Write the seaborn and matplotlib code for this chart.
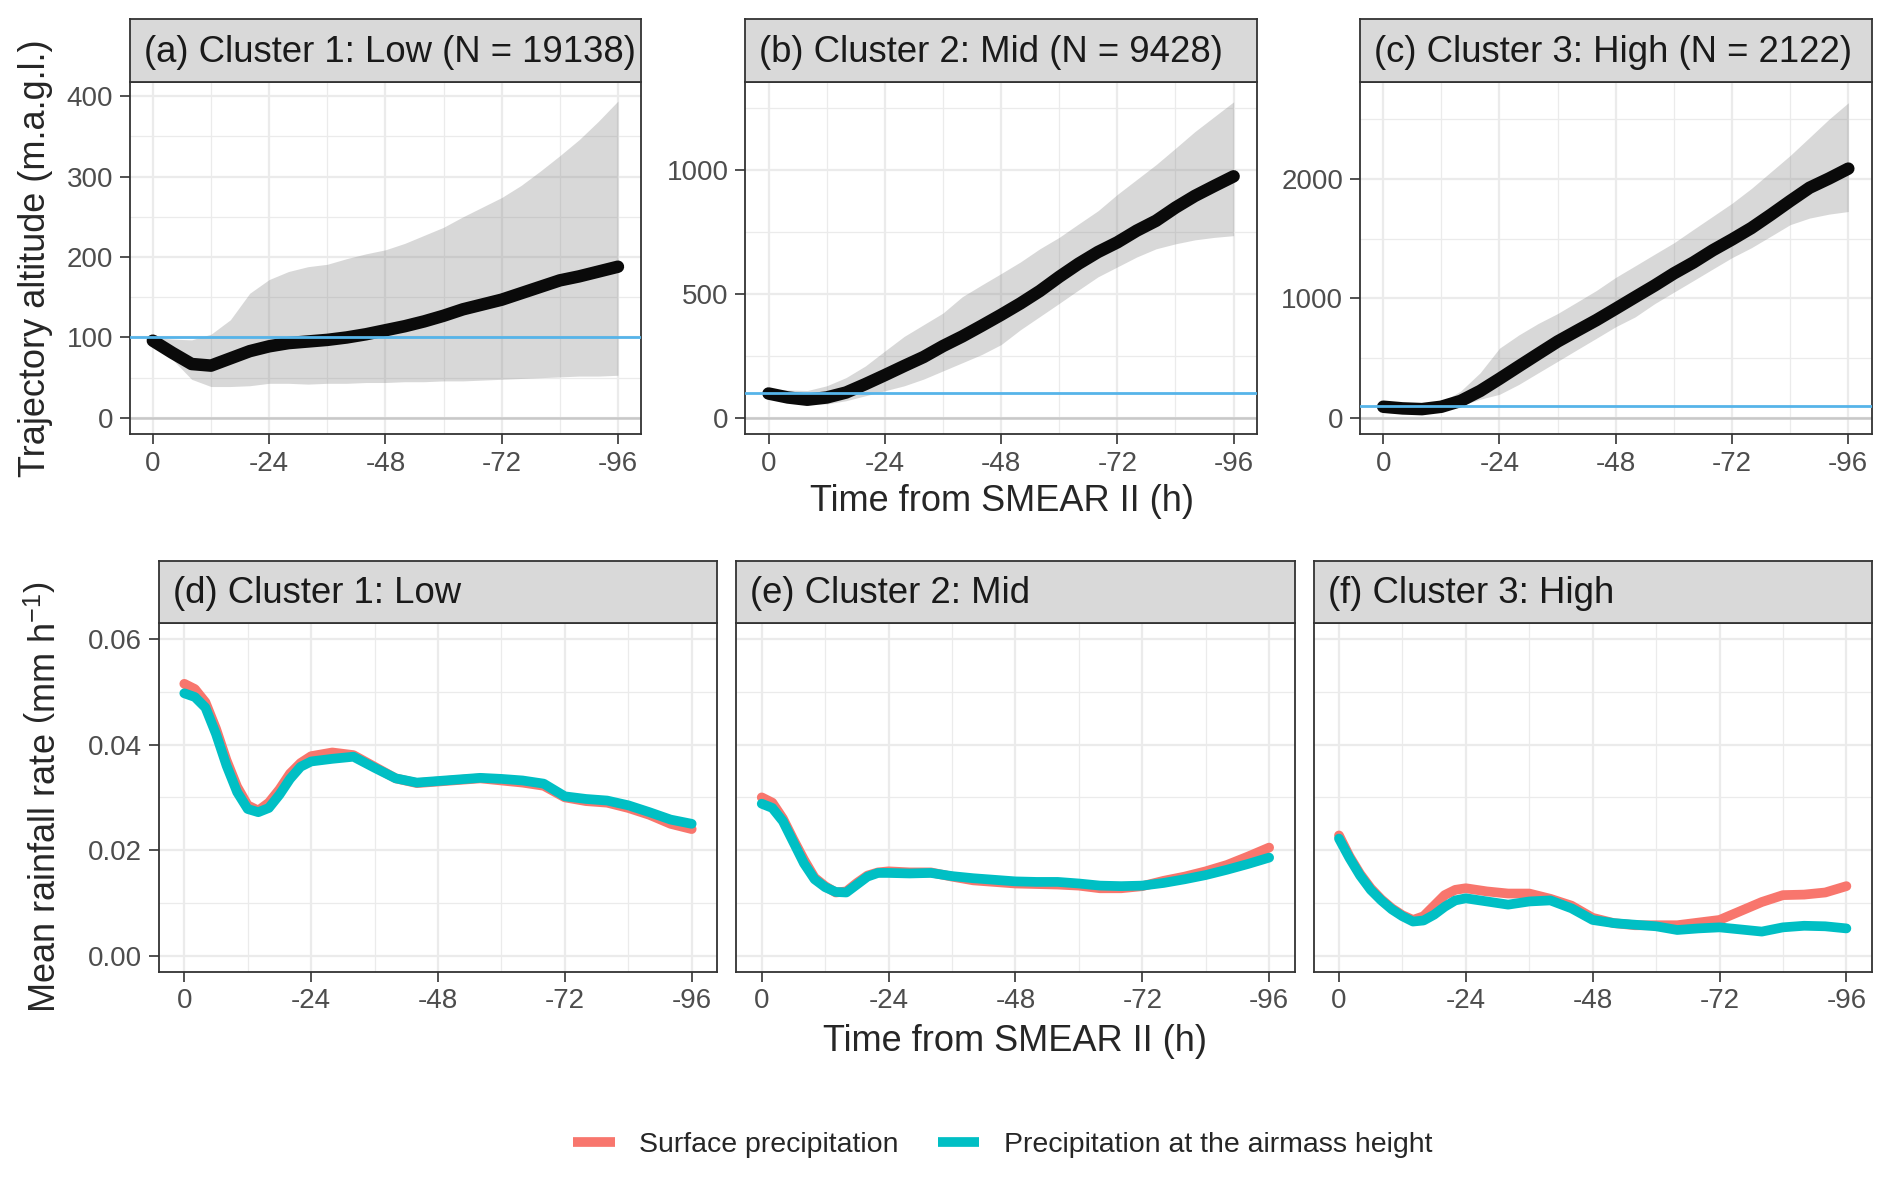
import numpy as np
import pandas as pd
import seaborn as sns
import matplotlib.pyplot as plt
from matplotlib.ticker import FixedLocator, FormatStrFormatter
from matplotlib.lines import Line2D

# ---- trajectory altitude (top row), every 4 h from 0 to -96
hours_traj = list(range(0, -97, -4))

low_mean = [96, 81, 67, 65, 74, 83, 89, 93, 95, 97, 100, 104, 109, 114, 120, 127, 135, 141, 147, 155, 163, 171, 176, 182, 188]
low_upper = [100, 98, 97, 104, 122, 155, 172, 182, 188, 191, 198, 204, 209, 217, 227, 237, 250, 262, 274, 289, 307, 326, 346, 369, 394]
low_lower = [93, 73, 48, 39, 39, 40, 43, 43, 42, 43, 43, 44, 44, 45, 45, 46, 46, 47, 48, 49, 50, 51, 52, 52, 53]

mid_mean = [98, 82, 73, 82, 102, 136, 172, 209, 245, 289, 328, 371, 415, 461, 511, 568, 621, 668, 707, 754, 794, 847, 894, 934, 973]
mid_upper = [116, 112, 110, 129, 162, 209, 269, 328, 375, 422, 488, 535, 581, 628, 681, 727, 781, 834, 900, 960, 1020, 1086, 1153, 1213, 1273]
mid_lower = [82, 65, 56, 56, 69, 89, 109, 129, 156, 189, 222, 255, 295, 355, 408, 461, 515, 568, 608, 648, 681, 701, 717, 727, 734]

high_mean = [94, 80, 74, 94, 143, 226, 328, 433, 537, 640, 730, 819, 915, 1012, 1108, 1210, 1301, 1403, 1494, 1590, 1701, 1816, 1927, 2004, 2087]
high_upper = [135, 130, 125, 130, 226, 378, 584, 695, 791, 874, 970, 1067, 1177, 1273, 1370, 1466, 1577, 1687, 1797, 1921, 2059, 2197, 2348, 2500, 2638]
high_lower = [47, 38, 33, 61, 102, 157, 198, 281, 378, 474, 571, 667, 764, 846, 956, 1053, 1149, 1246, 1342, 1425, 1521, 1618, 1673, 1706, 1728]

# ---- mean rainfall rate (bottom row)
hours_rain = [0, -2, -4, -6, -8, -10, -12, -14, -16, -18, -20, -22, -24,
              -28, -32, -36, -40, -44, -48, -52, -56, -60, -64, -68, -72, -76, -80, -84, -88, -92, -96]

low_surface = [0.0515, 0.0505, 0.0480, 0.0430, 0.0370, 0.0320, 0.0285, 0.0275, 0.0290, 0.0315, 0.0345, 0.0365, 0.0378,
               0.0385, 0.0380, 0.0358, 0.0336, 0.0327, 0.0330, 0.0333, 0.0336, 0.0332, 0.0328, 0.0322, 0.0300, 0.0293, 0.0290, 0.0280, 0.0267, 0.0250, 0.0240]
low_airmass = [0.0497, 0.0490, 0.0470, 0.0420, 0.0360, 0.0310, 0.0278, 0.0272, 0.0280, 0.0305, 0.0335, 0.0358, 0.0368,
               0.0373, 0.0377, 0.0356, 0.0336, 0.0328, 0.0331, 0.0334, 0.0337, 0.0335, 0.0332, 0.0326, 0.0302, 0.0297, 0.0294, 0.0285, 0.0272, 0.0258, 0.0250]

mid_surface = [0.0300, 0.0290, 0.0260, 0.0220, 0.0182, 0.0148, 0.0132, 0.0120, 0.0122, 0.0138, 0.0152, 0.0158, 0.0160,
               0.0158, 0.0158, 0.0150, 0.0143, 0.0140, 0.0137, 0.0136, 0.0135, 0.0133, 0.0128, 0.0128, 0.0132, 0.0142, 0.0150, 0.0160, 0.0172, 0.0188, 0.0205]
mid_airmass = [0.0288, 0.0280, 0.0255, 0.0215, 0.0175, 0.0145, 0.0130, 0.0121, 0.0120, 0.0135, 0.0150, 0.0157, 0.0157,
               0.0156, 0.0157, 0.0151, 0.0147, 0.0144, 0.0141, 0.0140, 0.0140, 0.0137, 0.0133, 0.0132, 0.0133, 0.0138, 0.0145, 0.0153, 0.0163, 0.0174, 0.0186]

high_surface = [0.0228, 0.0188, 0.0155, 0.0128, 0.0107, 0.0090, 0.0077, 0.0068, 0.0075, 0.0095, 0.0115, 0.0125, 0.0128,
                0.0122, 0.0118, 0.0118, 0.0108, 0.0095, 0.0072, 0.0062, 0.0058, 0.0058, 0.0058, 0.0063, 0.0068, 0.0085, 0.0102, 0.0115, 0.0116, 0.0120, 0.0132]
high_airmass = [0.0222, 0.0185, 0.0152, 0.0125, 0.0105, 0.0088, 0.0075, 0.0065, 0.0067, 0.0078, 0.0093, 0.0105, 0.0109,
                0.0103, 0.0097, 0.0103, 0.0105, 0.0090, 0.0068, 0.0062, 0.0059, 0.0056, 0.0049, 0.0052, 0.0054, 0.0050, 0.0046, 0.0054, 0.0057, 0.0056, 0.0052]

traj_titles = ['(a) Cluster 1: Low (N = 19138)', '(b) Cluster 2: Mid (N = 9428)', '(c) Cluster 3: High (N = 2122)']
rain_titles = ['(d) Cluster 1: Low', '(e) Cluster 2: Mid', '(f) Cluster 3: High']
source_names = ['Surface precipitation', 'Precipitation at the airmass height']
source_colors = ['#F8766D', '#00BFC4']

sns.set_theme(style="whitegrid")
plt.rcParams['font.family'] = ['Liberation Sans', 'DejaVu Sans']
plt.rcParams['axes.unicode_minus'] = False
plt.rcParams['mathtext.fontset'] = 'custom'
plt.rcParams['mathtext.rm'] = 'Liberation Sans'
plt.rcParams['mathtext.it'] = 'Liberation Sans:italic'

W, H = 1892, 1178
fig = plt.figure(figsize=(W / 100, H / 100), dpi=100)

top_lefts = [0.0685, 0.3939, 0.7188]
top_w = 0.2704
top_y, top_h = 0.6316, 0.2990
bot_lefts = [0.0840, 0.3892, 0.6943]
bot_w = 0.2950
bot_y, bot_h = 0.1751, 0.2960
strip_h = 0.0529


def style_axes(ax, show_y=True):
    ax.set_facecolor('white')
    ax.set_xlim(4.8, -100.8)
    ax.xaxis.set_major_locator(FixedLocator([0, -24, -48, -72, -96]))
    ax.xaxis.set_minor_locator(FixedLocator([-12, -36, -60, -84]))
    ax.grid(which='major', color='#EBEBEB', lw=1.6)
    ax.grid(which='minor', color='#EBEBEB', lw=0.9)
    ax.set_axisbelow(True)
    ax.tick_params(axis='both', which='major', direction='out', length=7, width=1.2,
                   color='#333333', labelsize=20, labelcolor='#4D4D4D', pad=5,
                   bottom=True, left=show_y, labelleft=show_y)
    ax.tick_params(axis='both', which='minor', length=0)
    for sp in ax.spines.values():
        sp.set_color('#333333')
        sp.set_linewidth(1.3)
    ax.set_xlabel('')
    ax.set_ylabel('')


def add_strip(ax, label):
    pos = ax.get_position()
    sax = fig.add_axes([pos.x0, pos.y1, pos.width, strip_h])
    sax.set_facecolor('#D9D9D9')
    sax.grid(False)
    sax.set_xticks([])
    sax.set_yticks([])
    for sp in sax.spines.values():
        sp.set_color('#333333')
        sp.set_linewidth(1.3)
    sax.text(14 / (pos.width * W), 0.47, label, transform=sax.transAxes,
             ha='left', va='center', fontsize=26.3, color='#1A1A1A')


# ---- top row
traj_sets = [(low_mean, low_lower, low_upper), (mid_mean, mid_lower, mid_upper), (high_mean, high_lower, high_upper)]
ylims = [(-20, 418), (-65, 1354), (-134, 2814)]
yticks = [[0, 100, 200, 300, 400], [0, 500, 1000], [0, 1000, 2000]]
yminor = [[50, 150, 250, 350], [250, 750, 1250], [500, 1500, 2500]]

for i, (mean, lower, upper) in enumerate(traj_sets):
    ax = fig.add_axes([top_lefts[i], top_y, top_w, top_h])
    ax.axhline(0, color='#C8C8C8', lw=1.8, zorder=1)
    ax.fill_between(hours_traj, lower, upper, color='#7F7F7F', alpha=0.3, lw=0, zorder=2)
    sns.lineplot(x=hours_traj, y=mean, ax=ax, color='#0A0A0A', linewidth=9, zorder=3)
    ax.axhline(100, color='#56B4E9', lw=2, zorder=5)
    style_axes(ax)
    ax.set_ylim(*ylims[i])
    ax.yaxis.set_major_locator(FixedLocator(yticks[i]))
    ax.yaxis.set_minor_locator(FixedLocator(yminor[i]))
    add_strip(ax, traj_titles[i])

# ---- bottom row
rain_sets = [(low_surface, low_airmass), (mid_surface, mid_airmass), (high_surface, high_airmass)]
for i, (surf, air) in enumerate(rain_sets):
    df = pd.DataFrame({
        'hour': hours_rain + hours_rain,
        'rate': surf + air,
        'source': [source_names[0]] * len(surf) + [source_names[1]] * len(air),
    })
    ax = fig.add_axes([bot_lefts[i], bot_y, bot_w, bot_h])
    sns.lineplot(data=df, x='hour', y='rate', hue='source', hue_order=source_names,
                 palette=source_colors, linewidth=7, legend=False, ax=ax)
    style_axes(ax, show_y=(i == 0))
    ax.set_ylim(-0.003, 0.063)
    ax.yaxis.set_major_locator(FixedLocator([0.0, 0.02, 0.04, 0.06]))
    ax.yaxis.set_minor_locator(FixedLocator([0.01, 0.03, 0.05]))
    ax.yaxis.set_major_formatter(FormatStrFormatter('%.2f'))
    add_strip(ax, rain_titles[i])

# ---- axis titles
fig.text(0.5296, 0.574, 'Time from SMEAR II (h)', ha='center', va='center', fontsize=26)
fig.text(0.5365, 0.1155, 'Time from SMEAR II (h)', ha='center', va='center', fontsize=26)
fig.text(0.019, 0.781, 'Trajectory altitude (m.a.g.l.)', ha='center', va='center', rotation=90, fontsize=26)
fig.text(0.024, 0.323, r'Mean rainfall rate $\left(\mathrm{mm\ h^{-1}}\right)$', ha='center', va='center',
         rotation=90, fontsize=26)

# ---- legend
handles = [Line2D([0], [0], color=c, lw=7, solid_capstyle='butt') for c in source_colors]
fig.legend(handles, source_names, loc='center', bbox_to_anchor=(0.53, 0.028), ncol=2, frameon=False,
           fontsize=20.5, handlelength=1.45, handletextpad=0.85, columnspacing=1.4)

fig.savefig('out.png', dpi=100)
